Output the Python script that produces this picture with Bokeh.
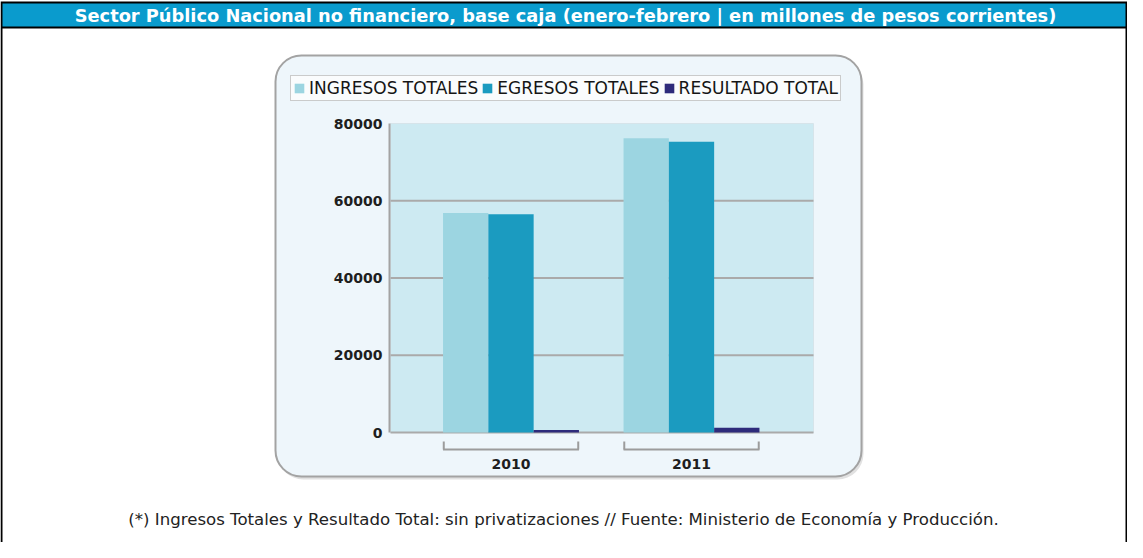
from bokeh.plotting import figure
from bokeh.models import (Range1d, BoxAnnotation, Label, Legend, LegendItem, ColumnDataSource)
from bokeh.transform import dodge
from bokeh.core.properties import value
from bokeh.embed import file_html
from bokeh.resources import INLINE

# ---------------- data ----------------
title_text = "Sector Público Nacional no financiero, base caja (enero-febrero | en millones de pesos corrientes)"
footnote_text = ("(*) Ingresos Totales y Resultado Total: sin privatizaciones // "
                 "Fuente: Ministerio de Economía y Producción.")
years = ["2010", "2011"]
ingresos = [56800, 76200]
egresos = [56500, 75300]
resultado = [650, 1250]
series_names = ["INGRESOS TOTALES", "EGRESOS TOTALES", "RESULTADO TOTAL"]
y_ticks = [0, 20000, 40000, 60000, 80000]

# ---------------- layout (canvas pixels) ----------------
W, H = 1127, 542
PLOT_L, PLOT_R, PLOT_T, ZERO_PX = 390, 813, 123, 432
G0_PX, UNIT_PX = 510.5, 180.5         # pixel centre of first group, pixels per group
Y_MAX = y_ticks[-1]
YPX = Y_MAX / (ZERO_PX - PLOT_T)      # data units per pixel


def xd(px):
    return (px - G0_PX) / UNIT_PX


def yd(py):
    return (ZERO_PX - py) * YPX


colors = ["#9CD5E1", "#1B9BC0", "#2E2B7B"]
FONT = "DejaVu Sans"
BAR_W = 0.251
idx = list(range(len(years)))

src = ColumnDataSource(dict(xi=idx, year=years, ingresos=ingresos, egresos=egresos,
                            resultado=resultado))

p = figure(x_range=Range1d(xd(0), xd(W)), y_range=Range1d(yd(H), yd(0)),
           width=W, height=H, min_border=0, min_border_left=0, min_border_right=0,
           min_border_top=0, min_border_bottom=0,
           x_axis_location=None, y_axis_location=None,
           output_backend="svg", toolbar_location=None,
           background_fill_color="white", border_fill_color="white",
           outline_line_color=None)
p.grid.visible = False


def box(l, r, t, b, **kw):
    kw.setdefault("line_color", None)
    return BoxAnnotation(left=xd(l), right=xd(r), top=yd(t), bottom=yd(b),
                         level="image", line_dash="solid", fill_alpha=kw.pop("fill_alpha", 1),
                         **kw)


# page frame, title bar, white body
p.add_layout(box(0, W, 1, H + 10, fill_color="black"))
p.add_layout(box(2, W - 2, 3, 26, fill_color="#0A9BCD"))
p.add_layout(box(2, W - 2, 28, H + 10, fill_color="white"))
# rounded chart panel + shadow
p.add_layout(box(277, 863, 58, 479, fill_color="#D4D4D4", fill_alpha=0.7, border_radius=26))
p.add_layout(box(275, 861, 55, 476, fill_color="#EEF6FB", line_color="#A3A3A3",
                 line_alpha=1, line_width=2, border_radius=26))
# plot background (0 .. max) and its left edge
p.add_layout(BoxAnnotation(left=xd(PLOT_L), right=xd(PLOT_R), bottom=0, top=Y_MAX, level="image",
                           fill_color="#CDEAF2", fill_alpha=1, line_color="#D6E4EA",
                           line_alpha=1, line_width=1, line_dash="solid"))
p.add_layout(BoxAnnotation(left=xd(PLOT_L - 2), right=xd(PLOT_L), bottom=0, top=Y_MAX,
                           level="image", fill_color="#A3A3A3", fill_alpha=1, line_color=None))

# horizontal grid lines
p.segment(x0=xd(PLOT_L), x1=xd(PLOT_R), y0=y_ticks[:-1], y1=y_ticks[:-1],
          line_color="#AAAAAA", line_width=2)

# bars
r1 = p.vbar(x=dodge("xi", -BAR_W), top="ingresos", width=BAR_W, source=src,
            fill_color=colors[0], line_color=None)
r2 = p.vbar(x=dodge("xi", 0), top="egresos", width=BAR_W, source=src,
            fill_color=colors[1], line_color=None)
r3 = p.vbar(x=dodge("xi", BAR_W), top="resultado", width=BAR_W, source=src,
            fill_color=colors[2], line_color=None)

# group brackets under the axis
yb, yt = yd(449), yd(441)
half = 1.5 * BAR_W
edge = 0.004
p.segment(x0=dodge("xi", -half), y0=yb, x1=dodge("xi", half), y1=yb,
          source=src, line_color="#9C9C9C", line_width=2)
p.segment(x0=dodge("xi", -half + edge), y0=yb, x1=dodge("xi", -half + edge), y1=yt,
          source=src, line_color="#9C9C9C", line_width=2)
p.segment(x0=dodge("xi", half - edge), y0=yb, x1=dodge("xi", half - edge), y1=yt,
          source=src, line_color="#9C9C9C", line_width=2)

# axis labels
p.text(x=xd(PLOT_L - 8), y=y_ticks, text=[str(t) for t in y_ticks],
       text_align="right", text_baseline="middle", text_color="#1E1E1E",
       text_font=value(FONT), text_font_style="bold", text_font_size="14px")
p.text(x="xi", y=yd(463), text="year", source=src,
       text_align="center", text_baseline="middle", text_color="#1E1E1E",
       text_font=value(FONT), text_font_style="bold", text_font_size="14px")

# legend
legend = Legend(items=[LegendItem(label=series_names[0], renderers=[r1]),
                       LegendItem(label=series_names[1], renderers=[r2]),
                       LegendItem(label=series_names[2], renderers=[r3])],
                orientation="horizontal", location=(290, H - 101),
                glyph_width=12, glyph_height=12, label_standoff=4, spacing=3,
                padding=2, margin=0, label_height=15,
                label_text_font=FONT, label_text_font_style="normal",
                label_text_font_size="17px", label_text_color="#151515",
                background_fill_color="#FAFCFD", background_fill_alpha=1,
                border_line_color="#999999", border_line_width=1)
p.add_layout(legend, "center")

# title and footnote
p.add_layout(Label(x=xd(565), y=yd(15), text=title_text,
                   text_align="center", text_baseline="middle", text_color="white",
                   text_font=FONT, text_font_style="bold", text_font_size="17.8px"))
p.add_layout(Label(x=xd(563), y=yd(519), text=footnote_text,
                   text_align="center", text_baseline="middle", text_color="#222222",
                   text_font=FONT, text_font_size="16.6px"))

open("out.html", "w").write(file_html(p, INLINE))
